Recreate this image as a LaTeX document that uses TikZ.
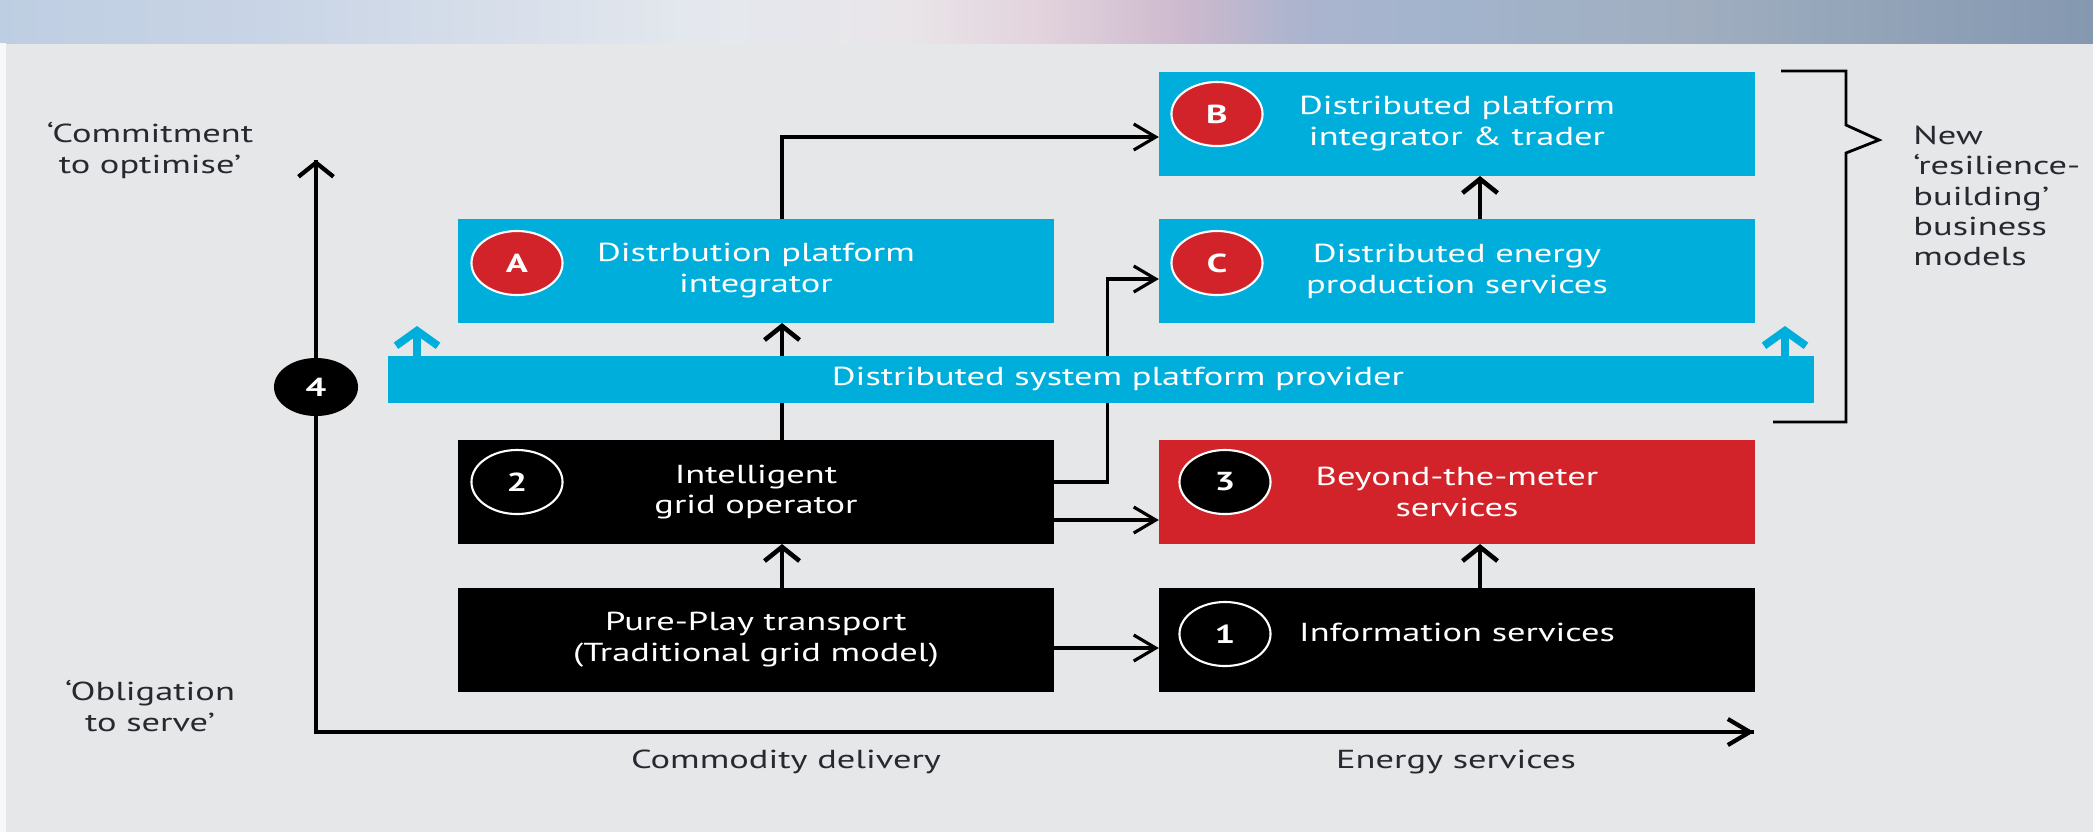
\documentclass[tikz,border=0pt]{standalone}
\usepackage{fontspec}
\setmainfont{PT Sans}[FakeStretch=1.4]
\usetikzlibrary{arrows.meta,shapes.geometric,calc}
\definecolor{gridBlue}  {RGB}{0,  174, 219}
\definecolor{gridRed}   {RGB}{210, 35,  42}
\definecolor{pageGrey}  {RGB}{230, 231, 233}
\definecolor{labelInk}  {RGB}{40,  40,  48}
\definecolor{bandA}     {RGB}{190, 206, 226}
\definecolor{bandB}     {RGB}{202, 213, 230}
\definecolor{bandC}     {RGB}{228, 232, 238}
\definecolor{bandD}     {RGB}{233, 230, 233}
\definecolor{bandE}     {RGB}{226, 210, 220}
\definecolor{bandF}     {RGB}{205, 186, 206}
\definecolor{bandG}     {RGB}{172, 180, 206}
\definecolor{bandH}     {RGB}{162, 180, 204}
\definecolor{bandI}     {RGB}{160, 174, 192}
\definecolor{bandJ}     {RGB}{132, 152, 176}
\pgfdeclarehorizontalshading{bandshade}{100bp}{%
  color(0bp)=(bandA); color(25bp)=(bandA); color(32bp)=(bandB);
  color(41.7bp)=(bandC); color(46.5bp)=(bandD); color(50bp)=(bandE);
  color(53.2bp)=(bandF); color(56bp)=(bandG); color(59.6bp)=(bandH);
  color(65.3bp)=(bandI); color(75bp)=(bandJ); color(100bp)=(bandJ)}
\newcommand{\diagfont}{\fontsize{7.4}{8.8}\selectfont}

\begin{document}
\begin{tikzpicture}[x=0.01cm,y=-0.01cm,
    box/.style={minimum width=5.96cm,minimum height=1.04cm,inner sep=0pt,
                outer sep=0pt,align=center,text=white,font=\diagfont},
    bluebox/.style={box,fill=gridBlue},
    blackbox/.style={box,fill=black},
    redbox/.style={box,fill=gridRed},
    badge/.style={ellipse,minimum width=0.91cm,minimum height=0.64cm,inner sep=0pt,
                  text=white,font=\diagfont\bfseries},
    redbadge/.style={badge,fill=gridRed,draw=white,line width=0.6pt},
    blackbadge/.style={badge,fill=black,draw=white,line width=0.6pt},
    axislabel/.style={align=center,text=labelInk,font=\diagfont},
    harrow/.style={-{Straight Barb[length=2.2mm,width=2.6mm]},line width=0.9pt},
    varrow/.style={-{Straight Barb[length=1.4mm,width=3.5mm]},line width=1.3pt},
    bluearrow/.style={-{Straight Barb[length=1.5mm,width=4.2mm]},line width=2.2pt,
                      gridBlue},
  ]

    % ─── Fundo e faixa superior ───────────────────────────
    \useasboundingbox (0,0) rectangle (2093,832);
    \fill[pageGrey] (0,0) rectangle (2093,832);
    \shade[shading=bandshade] (0,0) rectangle (2093,43);
    \fill[white!70!pageGrey] (0,43) rectangle (6,832);

    % ─── Eixos ────────────────────────────────────────────
    \coordinate (ytop)   at (316,160);
    \coordinate (origin) at (316,732);
    \coordinate (xend)   at (1754,732);
    \draw[line width=1.2pt] (ytop) -- (origin) -- (xend);
    \draw[varrow,line width=1.2pt] (origin) -- (ytop);
    \draw[harrow,line width=1.2pt] (origin) -- (xend);
    \node[badge,fill=black,minimum width=0.84cm,minimum height=0.58cm]
      (four) at (316,387) {4};

    % ─── Caixas ───────────────────────────────────────────
    \node[bluebox]  (distA) at (756,271) {Distrbution platform\\integrator};
    \node[bluebox]  (distB) at (1457,124) {Distributed platform\\integrator \& trader};
    \node[bluebox]  (distC) at (1457,271) {Distributed energy\\production services};
    \node[blackbox] (grid)  at (756,492) {Intelligent\\grid operator};
    \node[redbox]   (meter) at (1457,492) {Beyond-the-meter\\services};
    \node[blackbox] (pure)  at (756,640) {Pure-Play transport\\(Traditional grid model)};
    \node[blackbox] (info)  at (1457,640) {};
    \node[text=white,font=\diagfont] (infotext) at (1457,632) {Information services};

    % ─── Marcadores ───────────────────────────────────────
    \node[redbadge]   (badgeA) at (517,263)  {A};
    \node[redbadge]   (badgeB) at (1217,114) {B};
    \node[redbadge]   (badgeC) at (1217,263) {C};
    \node[blackbadge] (badge2) at (517,482)  {2};
    \node[blackbadge] (badge3) at (1225,482) {3};
    \node[blackbadge] (badge1) at (1225,634) {1};

    % ─── Setas entre caixas ───────────────────────────────
    \draw[harrow] ($(distA.north)+(26,0)$) |- ($(distB.west)+(0,13)$);
    \draw[varrow] ($(grid.north)+(26,0)$) -- ($(distA.south)+(26,0)$);
    \draw[varrow] ($(pure.north)+(26,0)$) -- ($(grid.south)+(26,0)$);
    \draw[harrow] ($(grid.east)+(0,-10)$) -- ++(53,0) |- ($(distC.west)+(0,8)$);
    \draw[harrow] ($(grid.east)+(0,28)$) -- ($(meter.west)+(0,28)$);
    \draw[harrow] ($(pure.east)+(0,8)$) -- ($(info.west)+(0,8)$);
    \draw[varrow] ($(info.north)+(23,0)$) -- ($(meter.south)+(23,0)$);
    \draw[varrow] ($(distC.north)+(23,0)$) -- ($(distB.south)+(23,0)$);

    % ─── Plataforma ───────────────────────────────────────
    \node[fill=gridBlue,minimum width=14.26cm,minimum height=0.47cm,inner sep=0pt,
          outer sep=0pt] (platform) at (1101,379.5) {};
    \node[text=white,font=\diagfont] (platformtext) at (1118,379)
      {Distributed system platform provider};
    \coordinate (tipL) at (417,326);
    \coordinate (tipR) at (1785,326);
    \draw[bluearrow] (platform.north west -| tipL) -- (tipL);
    \draw[bluearrow] (platform.north east -| tipR) -- (tipR);

    % ─── Chave e rótulos ──────────────────────────────────
    \draw[line width=0.8pt] (1781,71) -- (1846,71) -- (1846,125) -- (1879,140)
      -- (1846,153) -- (1846,422) -- (1773,422);
    \node[axislabel,align=left,anchor=west,font=\fontsize{7.4}{8.65}\selectfont]
      (newmodels) at (1901,196)
      {New\\‘resilience-\\building’\\business\\models};
    \node[axislabel] (commit) at (150,150) {‘Commitment\\to optimise’};
    \node[axislabel] (oblig)  at (150,706) {‘Obligation\\to serve’};
    \node[axislabel] (commod) at (786,762) {Commodity delivery};
    \node[axislabel] (energy) at (1456,762) {Energy services};

\end{tikzpicture}
\end{document}
